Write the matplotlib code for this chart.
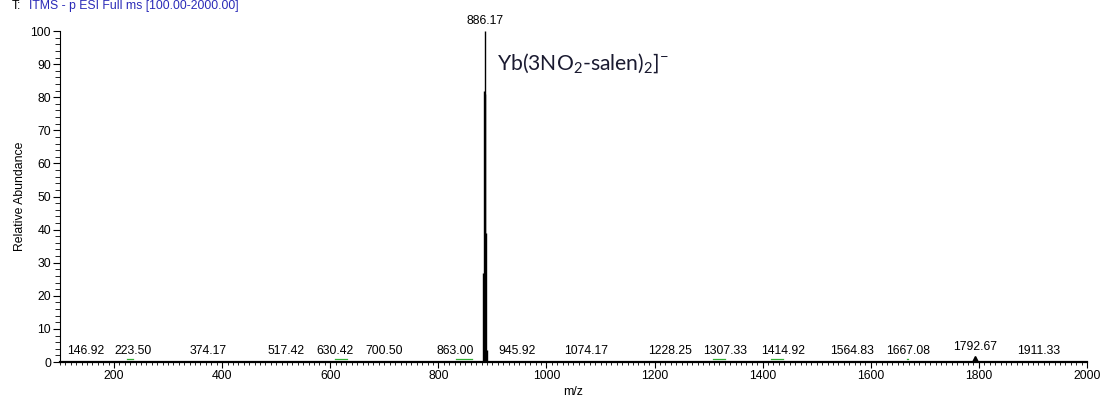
import matplotlib
matplotlib.use("Agg")
import matplotlib.pyplot as plt
from matplotlib.ticker import MultipleLocator

plt.rcParams['font.family'] = ['Liberation Sans', 'DejaVu Sans']
plt.rcParams['mathtext.fontset'] = 'custom'
plt.rcParams['mathtext.rm'] = 'Lato'

# isotope cluster of the main ion
cluster_mz = [883.17, 885.17, 886.17, 887.17, 888.17, 890.17]
cluster_int = [27, 82, 100, 81, 39, 3.6]

# small labelled peaks near the baseline
small_mz = [146.92, 223.50, 374.17, 517.42, 630.42, 700.50, 863.00, 945.92,
            1074.17, 1228.25, 1307.33, 1414.92, 1564.83, 1667.08, 1792.67, 1911.33]
small_int = [0.4, 0.4, 0.4, 0.4, 0.4, 0.4, 0.4, 0.4,
             0.4, 0.4, 0.4, 0.4, 0.4, 0.4, 1.5, 0.4]
# label shift in m/z units where the label was moved off its peak
label_shift = {223.50: 12, 630.42: -21, 863.00: -31, 1307.33: 23, 1414.92: 22, 1667.08: 2}

fig = plt.figure(figsize=(11.02, 4.03), dpi=100)
ax = fig.add_axes([0.0544, 0.1017, 0.932, 0.8213])

ax.vlines(cluster_mz, 0, cluster_int, color='black', lw=1.0)
ax.vlines(small_mz, 0, small_int, color='black', lw=1.0)

ax.annotate('886.17', (886.17, 100), xytext=(0, 3), textcoords='offset points',
            ha='center', va='bottom', fontsize=8.8, annotation_clip=False)

for mz, it in zip(small_mz, small_int):
    lx = mz + label_shift.get(mz, 0)
    ax.annotate(f'{mz:.2f}', (lx, it), xytext=(0, 3), textcoords='offset points',
                ha='center', va='bottom', fontsize=8.8)
    if mz in label_shift:
        ax.plot([mz, lx], [0.9, 0.9], color='#33b033', lw=0.9)

ax.plot([1792.67], [1.0], marker='^', color='black', ms=4)

ax.text(908, 90.3, r'Yb(3NO$\mathregular{_2}$-salen)$\mathregular{_2}$]$\mathregular{^{-}}$',
        fontsize=15.2, family='Lato', color='#1a1a30', va='center', ha='left')

ax.set_xlim(100, 2000)
ax.set_ylim(0, 100)
ax.xaxis.set_minor_locator(MultipleLocator(10))
ax.yaxis.set_major_locator(MultipleLocator(10))
ax.yaxis.set_minor_locator(MultipleLocator(2))
ax.set_xticks(range(200, 2001, 200))

for s in ['top', 'right']:
    ax.spines[s].set_visible(False)
ax.spines['bottom'].set_linewidth(1.6)
ax.spines['left'].set_linewidth(0.8)

ax.tick_params(axis='both', which='major', labelsize=8.8, width=0.8, pad=1.5)
ax.tick_params(axis='x', which='major', length=4)
ax.tick_params(axis='x', which='minor', length=2.2, width=0.6)
ax.tick_params(axis='y', which='major', length=5)
ax.tick_params(axis='y', which='minor', length=3.5, width=0.6)

ax.set_xlabel('m/z', fontsize=8.8, labelpad=3)
ax.set_ylabel('Relative Abundance', fontsize=8.8, labelpad=3)

fig.text(0.011, 1.0, 'T:', fontsize=8.8, va='top', ha='left', color='black')
fig.text(0.0265, 1.0, 'ITMS - p ESI Full ms [100.00-2000.00]', fontsize=8.8,
         va='top', ha='left', color='#2a2ab8')

fig.savefig('out.png', dpi=100)
